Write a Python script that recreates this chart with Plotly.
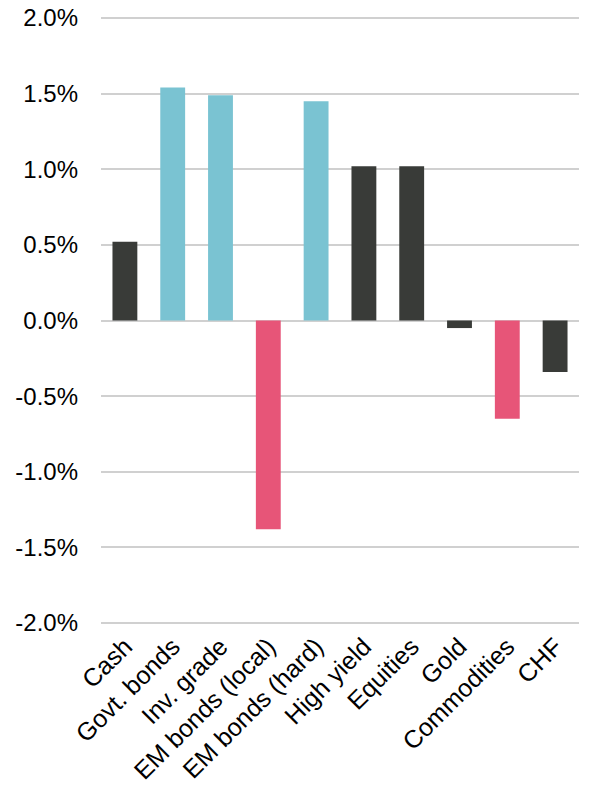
import plotly.graph_objects as go

categories = ["Cash", "Govt. bonds", "Inv. grade", "EM bonds (local)", "EM bonds (hard)",
              "High yield", "Equities", "Gold", "Commodities", "CHF"]
values = [0.52, 1.54, 1.49, -1.38, 1.45, 1.02, 1.02, -0.05, -0.65, -0.34]
bar_colors = ["#393B38", "#7AC3D2", "#7AC3D2", "#E75578", "#7AC3D2",
              "#393B38", "#393B38", "#393B38", "#E75578", "#393B38"]
tick_vals = [2.0, 1.5, 1.0, 0.5, 0.0, -0.5, -1.0, -1.5, -2.0]
tick_text = ["2.0%", "1.5%", "1.0%", "0.5%", "0.0%", "-0.5%", "-1.0%", "-1.5%", "-2.0%"]

fig = go.Figure(go.Bar(x=categories, y=values, marker=dict(color=bar_colors, line=dict(width=0)),
                       width=0.52))

fig.update_layout(
    width=600, height=810,
    margin=dict(l=101, r=21, t=15, b=184),
    plot_bgcolor="white", paper_bgcolor="white",
    showlegend=False,
    font=dict(family="Liberation Sans, Arial", size=24, color="#000000"),
)
fig.update_xaxes(tickangle=-45, showgrid=False, showline=False, ticks="", automargin=False,
                 ticklabeloverflow="allow",
                 tickfont=dict(size=25, color="#000000"))
fig.update_yaxes(range=[-2.02, 2.02], tickvals=tick_vals, ticktext=tick_text,
                 showgrid=True, gridcolor="#D0D0D0", gridwidth=1.5,
                 zeroline=True, zerolinecolor="#D0D0D0", zerolinewidth=1.5,
                 showline=False, ticks="", ticklabelstandoff=22, automargin=False,
                 ticklabeloverflow="allow",
                 tickfont=dict(size=24, color="#000000"))

fig.write_html("out.html", config={"displayModeBar": False},
               post_script="document.body.style.margin='0';")
